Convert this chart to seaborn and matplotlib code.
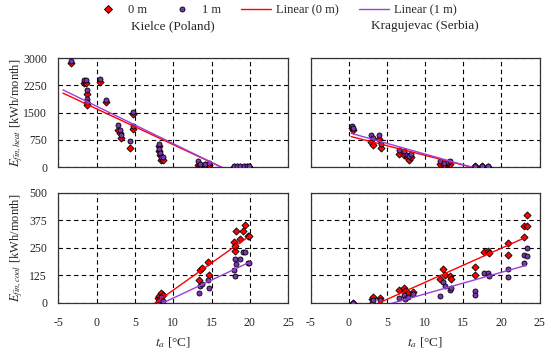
import numpy as np
import pandas as pd
import matplotlib
matplotlib.use("Agg")
import matplotlib.pyplot as plt
import seaborn as sns
from matplotlib.lines import Line2D

# --- data ---
# Kielce heating: x = mean outdoor temp, y0 = 0 m, y1 = 1 m
kh_x = [-3.4, -1.7, -1.4, -1.3, -1.3, -1.2, 0.4, 1.2, 2.8, 3.0, 3.2, 4.4, 4.7, 4.8,
        8.1, 8.2, 8.3, 8.4, 8.7, 13.2, 13.5, 14.1, 14.6, 17.9, 18.3, 18.7, 19.2, 19.6, 19.9]
kh_y0 = [2860, 2310, 2310, 2020, 1760, 1720, 2355, 1790, 1030, 935, 800, 540, 1460, 1045,
         570, 440, 330, 200, 200, 65, 60, 60, 65, 5, 10, 5, 5, 5, 5]
kh_y1 = [2930, 2385, 2385, 2130, 1870, 1800, 2420, 1850, 1150, 1010, 890, 710, 1530, 1140,
         630, 500, 390, 275, 270, 160, 90, 85, 110, 20, 40, 25, 20, 20, 20]

# Kragujevac heating
gh_x = [0.4, 0.6, 2.9, 3.1, 4.0, 4.2, 6.6, 7.2, 7.6, 7.9, 8.2, 12.0, 12.5, 13.0, 13.3,
        16.6, 17.5, 18.3]
gh_y0 = [1070, 1010, 700, 615, 785, 515, 360, 330, 270, 210, 280, 90, 60, 90, 80, 30, 25, 15]
gh_y1 = [1140, 1080, 885, 790, 875, 635, 470, 450, 335, 300, 360, 180, 120, 150, 170, 45, 45, 35]

# Kielce cooling
kc_x = [8.0, 8.2, 8.4, 8.6, 13.3, 13.5, 13.8, 14.5, 14.7, 17.9, 18.0, 18.1, 18.2, 18.7,
        19.1, 19.4, 19.8, 19.9]
kc_y0 = [20, 30, 42, 35, 103, 148, 156, 186, 126, 277, 236, 258, 327, 288, 327, 353, 303, 303]
kc_y1 = [5, 12, 24, 10, 42, 76, 85, 103, 68, 148, 121, 201, 174, 197, 232, 232, 179, 182]

# Kragujevac cooling
gc_x = [0.6, 3.0, 3.1, 4.1, 6.6, 7.2, 7.4, 7.8, 8.4, 12.0, 12.3, 12.6, 13.3, 13.4,
        16.6, 16.6, 17.7, 18.3, 18.4, 20.8, 20.8, 22.9, 23.0, 23.3, 23.3]
gc_y0 = [0, 15, 24, 20, 58, 65, 55, 45, 50, 106, 152, 126, 121, 106,
         161, 126, 232, 236, 227, 273, 217, 348, 297, 401, 348]
gc_y1 = [0, 0, 12, 12, 23, 35, 15, 27, 39, 30, 95, 76, 58, 68,
         55, 35, 133, 133, 121, 152, 118, 217, 182, 247, 214]

# linear trend lines: (intercept, slope) and x-range
fits = {
    "kh": {"x": [-4.4, 20.0], "0": (1604, -98.4), "1": (1675, -102.8)},
    "gh": {"x": [0.3, 18.3], "0": (857, -53.2), "1": (949, -58.9)},
    "kc": {"x": [7.0, 20.0], "0": (-189.7, 24.7), "1": (-143.0, 16.4)},
    "gc": {"x": [0.6, 23.2], "0": (-62.0, 15.5), "1": (-57.8, 9.8)},
}

titles = {"kh": "Kielce (Poland)", "gh": "Kragujevac (Serbia)"}
heat_ticks = [0, 750, 1500, 2250, 3000]
cool_ticks = [0, 125, 250, 375, 500]
x_ticks = [-5, 0, 5, 10, 15, 20, 25]

RED = "#FF0000"
PURPLE = "#7A35B5"
PURPLE_LINE = "#9B3FD6"

sns.set_theme(style="white")
plt.rcParams["font.family"] = ["Liberation Serif", "DejaVu Serif"]
plt.rcParams["mathtext.fontset"] = "stix"
plt.rcParams["axes.unicode_minus"] = False

fig = plt.figure(figsize=(5.5, 3.52), dpi=100)
pos = {
    "kh": [0.106, 0.525, 0.418, 0.310],
    "gh": [0.565, 0.525, 0.416, 0.310],
    "kc": [0.106, 0.140, 0.418, 0.3125],
    "gc": [0.565, 0.140, 0.416, 0.3125],
}
series = {
    "kh": (kh_x, kh_y0, kh_y1),
    "gh": (gh_x, gh_y0, gh_y1),
    "kc": (kc_x, kc_y0, kc_y1),
    "gc": (gc_x, gc_y0, gc_y1),
}

for key, (x, y0, y1) in series.items():
    ax = fig.add_axes(pos[key])
    df = pd.DataFrame({"x": x, "y0": y0, "y1": y1})
    sns.scatterplot(data=df, x="x", y="y0", marker="D", s=13, color=RED,
                    edgecolor="black", linewidth=0.6, ax=ax, zorder=3, legend=False)
    sns.scatterplot(data=df, x="x", y="y1", marker="o", s=13, color=PURPLE,
                    edgecolor="black", linewidth=0.6, ax=ax, zorder=4, legend=False)
    f = fits[key]
    xl = np.array(f["x"])
    for d, c in (("0", RED), ("1", PURPLE_LINE)):
        a, b = f[d]
        sns.lineplot(x=xl, y=a + b * xl, color=c, lw=1.0, ax=ax, zorder=5)

    heat = key.endswith("h")
    ax.set_xlim(-5, 25)
    ax.set_xticks(x_ticks)
    if heat:
        ax.set_ylim(0, 3000)
        ax.set_yticks(heat_ticks)
        ax.set_xticklabels([])
        ax.set_xlabel("")
        ax.set_title(titles[key], fontsize=9.5, pad=21)
    else:
        ax.set_ylim(0, 500)
        ax.set_yticks(cool_ticks)
        ax.set_xlabel(r"$t_a$ [°C]", fontsize=9.5, labelpad=5)
    ax.grid(True, color="black", linestyle=(0, (4, 3)), linewidth=0.8)
    ax.tick_params(length=0, labelsize=8.5, pad=8)
    ax.tick_params(axis="x", pad=10)
    for sp in ax.spines.values():
        sp.set_color("#333333")
        sp.set_linewidth(0.9)

    if key.startswith("k"):
        if heat:
            ax.set_ylabel(r"$E_{fin,heat}$ [kWh/month]", fontsize=9)
        else:
            ax.set_ylabel(r"$E_{fin,cool}$ [kWh/month]", fontsize=9)
        ax.yaxis.set_label_coords(-0.145, 0.5)
    else:
        ax.set_ylabel("")
        ax.set_yticklabels([])

handles = [
    Line2D([], [], marker="D", ls="none", color=RED, markeredgecolor="black",
           markeredgewidth=0.6, markersize=3.6),
    Line2D([], [], marker="o", ls="none", color=PURPLE, markeredgecolor="black",
           markeredgewidth=0.6, markersize=3.6),
    Line2D([], [], color=RED, lw=1.0),
    Line2D([], [], color=PURPLE_LINE, lw=1.0),
]
labels = ["0 m", "1 m", "Linear (0 m)", "Linear (1 m)"]
fig.legend(handles, labels, loc="upper center", bbox_to_anchor=(0.5, 1.02), ncol=4,
           frameon=False, fontsize=9, handlelength=2.4, columnspacing=1.6,
           handletextpad=0.4)

fig.savefig("out.png", dpi=100)
